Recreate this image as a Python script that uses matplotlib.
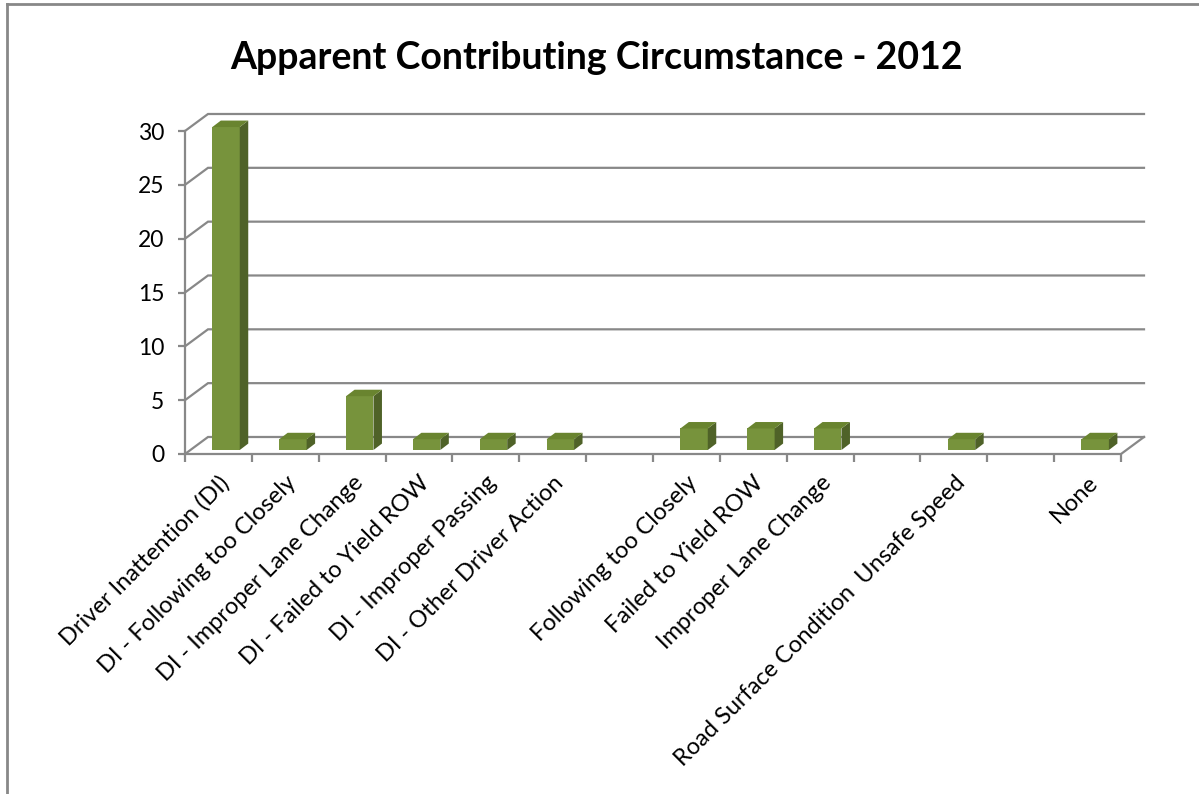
import numpy as np
import matplotlib.pyplot as plt
from matplotlib.patches import Polygon
from matplotlib.lines import Line2D

plt.rcParams['font.family'] = ['Lato', 'DejaVu Sans']

# data
categories = [
    'Driver Inattention (DI)',
    'DI - Following too Closely',
    'DI - Improper Lane Change',
    'DI - Failed to Yield ROW',
    'DI - Improper Passing',
    'DI - Other Driver Action',
    '',
    'Following too Closely',
    'Failed to Yield ROW',
    'Improper Lane Change',
    '',
    'Road Surface Condition  Unsafe Speed',
    '',
    'None',
]
counts = [30, 1, 5, 1, 1, 1, 0, 2, 2, 2, 0, 1, 0, 1]
y_ticks = [0, 5, 10, 15, 20, 25, 30]
title = 'Apparent Contributing Circumstance - 2012'

# 3d look (data units)
wall_dx, wall_dy = 0.344, 1.58     # back wall offset
bar_shift, bar_bottom = 0.114, 0.37
bar_w = 0.41
depth_dx, depth_dy = 0.127, 0.6

front = '#77933C'
side = '#4F6228'
top = '#69842F'
grid_c = '#888888'

fig = plt.figure(figsize=(11.99, 7.94), dpi=100)
ax = fig.add_axes([185 / 1199, 340 / 794, 936 / 1199, 323 / 794])
n = len(categories)
ax.set_xlim(-0.5, n - 0.5)
ax.set_ylim(0, 30)
for s in ax.spines.values():
    s.set_visible(False)

# walls / gridlines
x0, x1 = -0.5, n - 0.5
for v in y_ticks:
    ax.plot([x0, x0 + wall_dx, x1 + wall_dx], [v, v + wall_dy, v + wall_dy],
            color=grid_c, lw=1.6, clip_on=False, zorder=1, solid_joinstyle='miter')
ax.plot([x0, x1, x1 + wall_dx], [0, 0, wall_dy], color=grid_c, lw=1.6,
        clip_on=False, zorder=1)
ax.plot([x0, x0], [0, 30], color=grid_c, lw=1.6, clip_on=False, zorder=1)

# bars
idx = np.arange(n)
xs = idx + bar_shift
ax.bar(xs, counts, width=bar_w, bottom=bar_bottom, color=front,
       edgecolor='none', zorder=3, clip_on=False)
for x, v in zip(xs, counts):
    if v == 0:
        continue
    l, r = x - bar_w / 2, x + bar_w / 2
    b, t = bar_bottom, bar_bottom + v
    ax.add_patch(Polygon([(r, b), (r + depth_dx, b + depth_dy),
                          (r + depth_dx, t + depth_dy), (r, t)],
                         closed=True, fc=side, ec='none', zorder=3, clip_on=False))
    ax.add_patch(Polygon([(l, t), (r, t), (r + depth_dx, t + depth_dy),
                          (l + depth_dx, t + depth_dy)],
                         closed=True, fc=top, ec='none', zorder=3, clip_on=False))

# ticks
ax.set_yticks(y_ticks)
ax.tick_params(axis='y', length=5, width=1.6, color=grid_c, pad=10,
               labelsize=16.5, labelcolor='black')
ax.set_xticks(idx)
ax.set_xticklabels(categories, rotation=45, ha='right', rotation_mode='anchor',
                   fontsize=17)
ax.tick_params(axis='x', which='major', length=0, pad=13)
ax.set_xticks(np.arange(n + 1) - 0.5, minor=True)
ax.tick_params(axis='x', which='minor', length=6, width=1.6, color=grid_c)

fig.text(597 / 1199, 1 - 58 / 794, title, ha='center', va='center',
         fontsize=27, fontweight='bold')

# outer frame
fig.add_artist(Line2D([7 / 1199, 7 / 1199], [0, 1 - 4 / 794],
                      transform=fig.transFigure, color='#888888', lw=2))
fig.add_artist(Line2D([7 / 1199, 1], [1 - 4 / 794, 1 - 4 / 794],
                      transform=fig.transFigure, color='#888888', lw=2))

fig.savefig('out.png', dpi=100)
